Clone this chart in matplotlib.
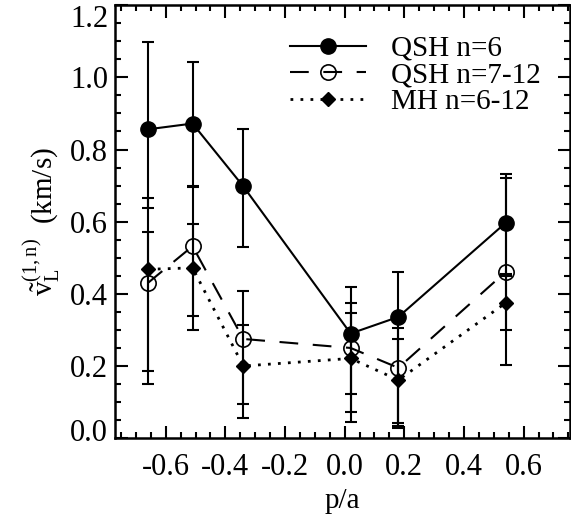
import matplotlib
matplotlib.use("Agg")
import matplotlib.pyplot as plt
import matplotlib.transforms as mtransforms
import numpy as np

plt.rcParams["font.family"] = ["Liberation Serif", "DejaVu Serif"]
plt.rcParams["mathtext.fontset"] = "custom"
plt.rcParams["mathtext.rm"] = "Liberation Serif"
plt.rcParams["mathtext.it"] = "Liberation Serif:italic"

# p/a positions
pa = [-0.66, -0.51, -0.34, 0.02, 0.18, 0.54]

# QSH n=6
qsh6 = [0.856, 0.872, 0.698, 0.290, 0.336, 0.597]
qsh6_lo = [0.638, 0.696, 0.530, 0.122, 0.041, 0.455]
qsh6_hi = [1.098, 1.042, 0.856, 0.420, 0.461, 0.731]

# QSH n=7-12
qsh7 = [0.430, 0.532, 0.275, 0.250, 0.195, 0.461]
qsh7_lo = [0.186, 0.299, 0.057, 0.044, 0.034, 0.202]
qsh7_hi = [0.666, 0.700, 0.407, 0.376, 0.306, 0.720]

# MH n=6-12
mh = [0.468, 0.472, 0.200, 0.221, 0.161, 0.375]
mh_lo = [0.149, 0.338, 0.096, 0.072, 0.028, 0.299]
mh_hi = [0.571, 0.593, 0.313, 0.346, 0.274, 0.450]

labels = ["QSH n=6", "QSH n=7-12", "MH n=6-12"]
xticklabels = ["-0.6", "-0.4", "-0.2", "0.0", "0.2", "0.4", "0.6"]
yticklabels = ["0.0", "0.2", "0.4", "0.6", "0.8", "1.0", "1.2"]


def yerr(v, lo, hi):
    v, lo, hi = np.array(v), np.array(lo), np.array(hi)
    return [v - lo, hi - v]


fig = plt.figure(figsize=(5.71, 5.21), dpi=100)
ax = fig.add_axes([0.2014, 0.159, 0.7966, 0.831])

eb = dict(fmt="none", ecolor="black", elinewidth=1.5, capsize=4.5, capthick=1.5, zorder=2)
ax.errorbar(pa, qsh6, yerr=yerr(qsh6, qsh6_lo, qsh6_hi), **eb)
ax.errorbar(pa, qsh7, yerr=yerr(qsh7, qsh7_lo, qsh7_hi), **eb)
ax.errorbar(pa, mh, yerr=yerr(mh, mh_lo, mh_hi), **eb)

ax.plot(pa, qsh6, "-", color="black", lw=1.5, marker="o", ms=11,
        mfc="black", mec="black", label=labels[0], zorder=3)
ax.plot(pa, qsh7, color="black", lw=1.5, dashes=(9, 7), marker="o", ms=11,
        mfc="none", mec="black", mew=1.2, label=labels[1], zorder=3)
ax.plot(pa, mh, color="black", lw=2.0, dashes=(1, 2.6), marker="D", ms=7.5,
        mfc="black", mec="black", label=labels[2], zorder=3)

ax.set_xlim(-0.77, 0.755)
ax.set_ylim(0, 1.2)
ax.set_xticks(np.arange(-0.6, 0.61, 0.2))
ax.set_xticklabels(xticklabels)
ax.set_xticks(np.arange(-0.75, 0.76, 0.05), minor=True)
ax.set_yticks(np.arange(0, 1.21, 0.2))
ax.set_yticklabels(yticklabels)
ax.set_yticks(np.arange(0, 1.21, 0.05), minor=True)

ax.tick_params(which="both", direction="in", top=True, right=True, width=1.5, labelsize=22)
ax.tick_params(which="major", length=9)
ax.tick_params(which="minor", length=4.5)
ax.tick_params(axis="x", pad=11)
ax.tick_params(axis="y", pad=5)
for s in ax.spines.values():
    s.set_linewidth(1.8)

# end labels sit inside the axis span, as in the original
ylabs = ax.get_yticklabels()
ylabs[0].set_transform(ylabs[0].get_transform() +
                       mtransforms.ScaledTranslation(0, 6 / 72, fig.dpi_scale_trans))
ylabs[-1].set_transform(ylabs[-1].get_transform() +
                        mtransforms.ScaledTranslation(0, -7.5 / 72, fig.dpi_scale_trans))

ax.set_xlabel("p/a", fontsize=21, labelpad=4)
ax.set_ylabel(r"$\tilde{\mathrm{v}}_{\mathrm{L}}^{(1,\mathrm{n})}$  (km/s)", fontsize=21, labelpad=6)

leg = ax.legend(loc="upper left", bbox_to_anchor=(0.36, 0.957), frameon=False,
                fontsize=21, handlelength=2.6, handletextpad=0.85,
                labelspacing=0.0, borderaxespad=0)

fig.savefig("out.png", dpi=100)
